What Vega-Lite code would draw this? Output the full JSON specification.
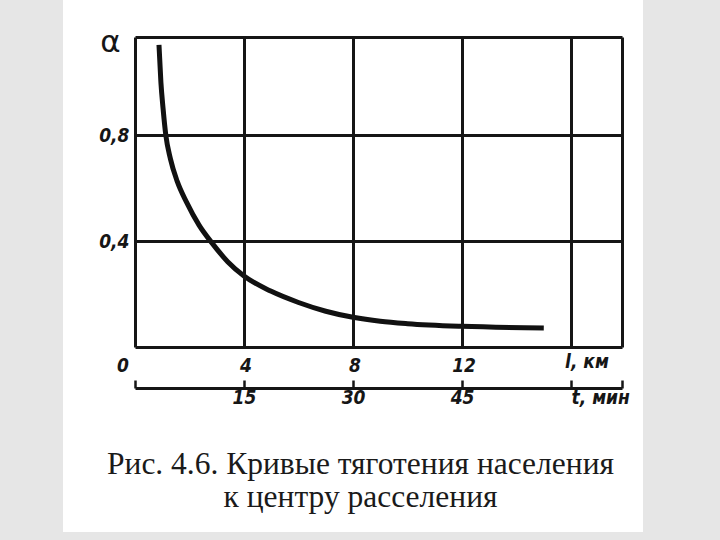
{
  "$schema": "https://vega.github.io/schema/vega-lite/v6.json",
  "width": 487,
  "height": 310,
  "padding": {"left": 63, "right": 77, "top": 0, "bottom": 8},
  "background": "#e6e6e6",
  "config": {"view": {"stroke": null}},
  "datasets": {
    "curve": [
      {"l": 0.88, "alpha": 1.14},
      {"l": 0.95, "alpha": 1.0},
      {"l": 1.03, "alpha": 0.9},
      {"l": 1.13, "alpha": 0.8},
      {"l": 1.3, "alpha": 0.71},
      {"l": 1.55, "alpha": 0.625},
      {"l": 1.9, "alpha": 0.545},
      {"l": 2.35, "alpha": 0.46},
      {"l": 2.83, "alpha": 0.392},
      {"l": 3.4, "alpha": 0.322},
      {"l": 4.0, "alpha": 0.268},
      {"l": 5.0, "alpha": 0.21},
      {"l": 6.0, "alpha": 0.168},
      {"l": 7.0, "alpha": 0.135},
      {"l": 8.0, "alpha": 0.112},
      {"l": 9.0, "alpha": 0.097},
      {"l": 10.0, "alpha": 0.088},
      {"l": 12.0, "alpha": 0.078},
      {"l": 15.0, "alpha": 0.072}
    ],
    "lticks": [
      {"l": 0, "label": "0"},
      {"l": 4, "label": "4"},
      {"l": 8, "label": "8"},
      {"l": 12, "label": "12"},
      {"l": 16, "label": "l, км"}
    ]
  },
  "layer": [
    {
      "data": {"name": "curve"},
      "mark": {"type": "rect", "color": "white", "clip": false},
      "encoding": {
        "x": {
          "datum": -2.64, "type": "quantitative",
          "scale": {"domain": [0, 17.87], "nice": false, "zero": false},
          "axis": {
            "orient": "bottom", "offset": 41, "zindex": 1,
            "values": [0, 4, 8, 12, 16, 17.87],
            "labelExpr": "datum.value == 4 ? '15' : datum.value == 8 ? '30' : datum.value == 12 ? '45' : datum.value == 16 ? 't, мин' : ''",
            "domain": true, "domainColor": "#161616", "domainWidth": 3,
            "ticks": true, "tickSize": -8, "tickWidth": 2.5, "tickColor": "#161616",
            "grid": true, "gridColor": "#161616", "gridWidth": 3,
            "labelFont": "DejaVu Sans Condensed", "labelFontStyle": "italic", "labelFontWeight": "bold", "labelFontSize": 19, "labelColor": "#161616",
            "labelPadding": 8, "labelFlush": false, "labelOverlap": false, "labelBound": false,
            "labelAlign": {"condition": {"test": "datum.value == 16", "value": "left"}, "value": "center"},
            "title": ["Рис. 4.6. Кривые тяготения населения", "к центру расселения"],
            "titleFont": "Liberation Serif", "titleFontSize": 31.5, "titleFontWeight": "normal", "titleColor": "#1a1a1a",
            "titleX": 225, "titleY": 60, "titleBaseline": "top", "titleAlign": "center", "titleLineHeight": 33
          }
        },
        "x2": {"datum": 18.64},
        "y": {
          "datum": -0.698, "type": "quantitative",
          "scale": {"domain": [0, 1.17], "nice": false, "zero": false},
          "axis": {
            "orient": "left", "zindex": 1,
            "values": [0, 0.4, 0.8, 1.17],
            "labelExpr": "datum.value == 0.4 ? '0,4' : datum.value == 0.8 ? '0,8' : ''",
            "domain": false, "ticks": false,
            "grid": true, "gridColor": "#161616", "gridWidth": 3,
            "labelFont": "DejaVu Sans Condensed", "labelFontStyle": "italic", "labelFontWeight": "bold", "labelFontSize": 19, "labelColor": "#161616",
            "labelPadding": 6, "labelBaseline": "middle",
            "title": "α", "titleAngle": 0, "titleX": -25, "titleY": 14, "titleAlign": "center", "titleBaseline": "alphabetic",
            "titleFont": "DejaVu Sans", "titleFontSize": 31, "titleFontWeight": "normal", "titleColor": "#161616"
          }
        },
        "y2": {"datum": 1.309}
      }
    },
    {
      "data": {"name": "curve"},
      "mark": {"type": "line", "color": "#111111", "strokeWidth": 5, "interpolate": "monotone", "strokeCap": "butt"},
      "encoding": {
        "x": {"field": "l", "type": "quantitative", "scale": {"domain": [0, 17.87], "nice": false, "zero": false}},
        "y": {"field": "alpha", "type": "quantitative", "scale": {"domain": [0, 1.17], "nice": false, "zero": false}}
      }
    },
    {
      "data": {"name": "lticks"},
      "transform": [{"filter": "datum.l == 0"}],
      "mark": {"type": "text", "font": "DejaVu Sans Condensed", "fontStyle": "italic", "fontWeight": "bold", "fontSize": 19, "color": "#161616", "align": "center", "baseline": "top", "dx": -12, "dy": 10},
      "encoding": {
        "x": {"field": "l", "type": "quantitative", "scale": {"domain": [0, 17.87], "nice": false, "zero": false}},
        "y": {"datum": 0, "type": "quantitative", "scale": {"domain": [0, 1.17], "nice": false, "zero": false}},
        "text": {"field": "label"}
      }
    },
    {
      "data": {"name": "lticks"},
      "transform": [{"filter": "datum.l > 0 && datum.l < 16"}],
      "mark": {"type": "text", "font": "DejaVu Sans Condensed", "fontStyle": "italic", "fontWeight": "bold", "fontSize": 19, "color": "#161616", "align": "center", "baseline": "top", "dx": 2, "dy": 10},
      "encoding": {
        "x": {"field": "l", "type": "quantitative", "scale": {"domain": [0, 17.87], "nice": false, "zero": false}},
        "y": {"datum": 0, "type": "quantitative", "scale": {"domain": [0, 1.17], "nice": false, "zero": false}},
        "text": {"field": "label"}
      }
    },
    {
      "data": {"name": "lticks"},
      "transform": [{"filter": "datum.l == 16"}],
      "mark": {"type": "text", "font": "DejaVu Sans Condensed", "fontStyle": "italic", "fontWeight": "bold", "fontSize": 19, "color": "#161616", "align": "left", "baseline": "top", "dx": -6, "dy": 6},
      "encoding": {
        "x": {"field": "l", "type": "quantitative", "scale": {"domain": [0, 17.87], "nice": false, "zero": false}},
        "y": {"datum": 0, "type": "quantitative", "scale": {"domain": [0, 1.17], "nice": false, "zero": false}},
        "text": {"field": "label"}
      }
    }
  ]
}
